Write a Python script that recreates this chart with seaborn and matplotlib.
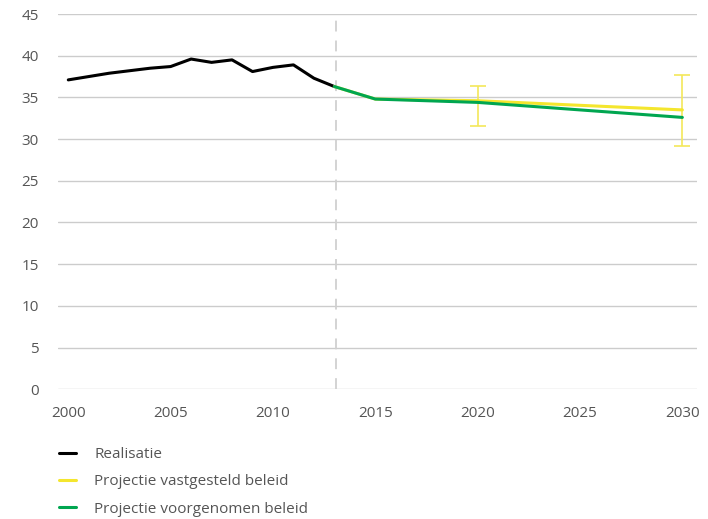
import seaborn as sns
import matplotlib.pyplot as plt
import pandas as pd
from matplotlib.lines import Line2D

# realisatie
years_real = [2000, 2001, 2002, 2003, 2004, 2005, 2006, 2007, 2008, 2009, 2010, 2011, 2012, 2013]
vals_real = [37.1, 37.5, 37.9, 38.2, 38.5, 38.7, 39.6, 39.2, 39.5, 38.1, 38.6, 38.9, 37.3, 36.3]

# projecties
years_proj = [2013, 2015, 2020, 2030]
vals_vast = [36.3, 34.8, 34.6, 33.5]
vals_voor = [36.3, 34.8, 34.4, 32.6]

# onzekerheidsband vastgesteld beleid
err_years = [2020, 2030]
err_low = [31.6, 29.2]
err_high = [36.4, 37.7]

labels = ['Realisatie', 'Projectie vastgesteld beleid', 'Projectie voorgenomen beleid']
colors = ['#000000', '#f4e62e', '#00a650']
xticks = [2000, 2005, 2010, 2015, 2020, 2025, 2030]
yticks = [0, 5, 10, 15, 20, 25, 30, 35, 40, 45]

df = pd.concat([
    pd.DataFrame({'jaar': years_real, 'waarde': vals_real, 'reeks': labels[0]}),
    pd.DataFrame({'jaar': years_proj, 'waarde': vals_vast, 'reeks': labels[1]}),
    pd.DataFrame({'jaar': years_proj, 'waarde': vals_voor, 'reeks': labels[2]}),
])

sns.set_style('white')
plt.rcParams['font.family'] = ['Open Sans', 'DejaVu Sans']
txt = '#555555'

fig = plt.figure(figsize=(7.08, 5.19), dpi=100)
ax = fig.add_axes([0.082, 0.25, 0.902, 0.723])

for y in yticks:
    ax.axhline(y, color='#cccccc', lw=1, zorder=0)
ax.axvline(2013.1, color='#d0d0d0', lw=1.3, ls=(0, (6, 5)), zorder=0)

# error bars
mid = [(l + h) / 2 for l, h in zip(err_low, err_high)]
half = [(h - l) / 2 for l, h in zip(err_low, err_high)]
ax.errorbar(err_years, mid, yerr=half, fmt='none', ecolor='#f4e85a', elinewidth=1.2,
            capsize=6, capthick=1.2, zorder=1)

sns.lineplot(data=df, x='jaar', y='waarde', hue='reeks', hue_order=labels,
             palette=colors, lw=2.2, ax=ax, legend=False, zorder=2)
# groen boven geel
ax.lines[-1].set_zorder(3)

ax.set_xlim(1999.5, 2030.7)
ax.set_ylim(0, 45)
ax.set_xticks(xticks)
ax.set_yticks(yticks)
ax.set_xlabel('')
ax.set_ylabel('')
ax.tick_params(axis='both', length=0, labelsize=11, labelcolor=txt)
ax.tick_params(axis='x', pad=12)
ax.tick_params(axis='y', pad=14)
for s in ax.spines.values():
    s.set_visible(False)

handles = [Line2D([], [], color=c, lw=2.2) for c in colors]
leg = fig.legend(handles, labels, loc='upper left', bbox_to_anchor=(0.075, 0.15),
                 frameon=False, fontsize=11, handlelength=1.1, handletextpad=1.2,
                 labelspacing=0.8, borderaxespad=0)
for t in leg.get_texts():
    t.set_color(txt)

fig.savefig('out.png', dpi=100)
